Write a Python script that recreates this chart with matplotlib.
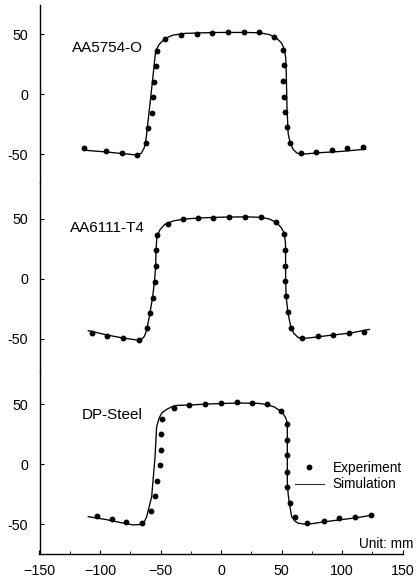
import matplotlib
matplotlib.use("Agg")
import matplotlib.pyplot as plt
from matplotlib.lines import Line2D

plt.rcParams['font.family'] = ['Liberation Sans', 'DejaVu Sans']

# ---------------- data ----------------
labels = ["AA5754-O", "AA6111-T4", "DP-Steel"]

exp1_x = [-113, -95, -82, -69.7, -62.2, -60, -57.3, -56.4, -55.4, -54, -53.2, -46, -33, -20,
          -7.2, 5.8, 18.7, 31.7, 44, 51, 52.1, 51.5, 52.1, 52.6, 54.3, 57, 66.1, 78.8, 91.7, 104.4, 117.4]
exp1_y = [-45.3, -47.2, -49.4, -50.8, -41.1, -28.3, -16.1, -2.8, 10.3, 23.3, 36.1, 45.8, 49.4, 50.3,
          50.8, 51.7, 51.4, 51.4, 47.5, 36.7, 23.9, 11.1, -2.2, -15, -27.8, -40.6, -49.4, -48.1, -46.4, -45.3, -44.2]
sim1_x = [-111, -95, -82, -70, -66, -63.5, -62, -58, -54.3, -53.5, -51, -46.5, -40, -30, -15, 0, 20, 32,
          40, 46, 50, 52.5, 53.5, 54, 54.5, 55.5, 57, 59.5, 62.5, 66, 80, 100, 119.6]
sim1_y = [-47, -48.3, -49.6, -50.8, -49.5, -45, -38, -2, 33, 37, 41.5, 46, 49, 50.5, 51, 51.3, 51.3, 51,
          49.5, 46.5, 42.5, 37, 30, 15, -10, -33, -40, -46, -49, -50.3, -49, -47.8, -46]

exp2_x = [-106.4, -94, -81, -68, -60.9, -58.7, -56.3, -54.6, -53.8, -53.8, -52.6, -44, -31.7, -18.8,
          -6.4, 6.9, 19.8, 33.3, 45.2, 52.1, 53, 52.9, 52.8, 53.6, 55.4, 58.1, 66.8, 79.8, 92.8, 105.5, 118.2]
exp2_y = [-44.7, -47.2, -49.4, -50.8, -41.1, -28.6, -15.8, -2.6, 10.5, 23.9, 36.5, 46.2, 49.7, 50.5,
          51.1, 51.9, 51.9, 51.4, 47.6, 37.3, 24.2, 10.8, -1.7, -14.3, -27.9, -40.5, -49.1, -47.7, -46.4, -45.3, -43.9]
sim2_x = [-109.7, -95, -82, -70, -66, -63.5, -61.5, -59, -56.5, -55, -54, -53.7, -53, -50.5, -46.5, -39,
          -30, -15, 0, 20, 33, 40, 46, 50, 52.3, 53.3, 53.4, 53.4, 53.8, 55.3, 57.5, 60, 63.5, 67, 80, 93, 106, 122.6]
sim2_y = [-43, -46.5, -49, -50.8, -50.5, -48, -43, -30, -15, -2, 10, 24, 35, 41, 45.5, 48.5,
          50, 51, 51.5, 51.8, 51.4, 50, 47, 42.5, 38, 30, 15, 0, -14, -28, -39, -45, -48.5, -49.8, -48.2, -46.6, -45.2, -42]

exp3_x = [-102.7, -90.3, -78.2, -65.5, -58, -54.8, -52.9, -50.7, -50, -49.7, -48.6, -39.1, -26.4, -13.6,
          -0.3, 13, 25.4, 38.3, 49.3, 54.8, 54.8, 54.3, 54.3, 54.3, 57, 61.2, 71.3, 85.1, 97.8, 110.7, 123.7]
exp3_y = [-43.3, -45.6, -48.7, -49.4, -38.9, -26.7, -13.9, -1.2, 11.7, 25, 37.3, 46.4, 49.2, 50,
          50.6, 51.4, 51.1, 49.7, 44.4, 33.3, 20, 7.5, -6.4, -19.4, -32.2, -44.4, -48.9, -47.2, -45.3, -43.9, -42.8]
sim3_x = [-109.7, -95, -82, -72.5, -66, -63.5, -61.4, -57.3, -54.5, -53.8, -53.2, -51, -49, -44.9, -39.4,
          -36.6, -25.6, -10, 0, 15, 30, 38, 44, 50.2, 53.5, 54.8, 54.8, 54.8, 55.5, 56.5, 58.4, 61, 63.9, 71.3,
          84.6, 100, 112, 123.7]
sim3_y = [-43.9, -46.3, -49, -50.8, -50.3, -48.5, -43.9, -27.2, 6.1, 20, 31.1, 38.5, 42.5, 45.5, 48.3,
          48.8, 49.2, 50, 50.4, 50.8, 50.6, 49.6, 47.5, 43.6, 38.5, 33.9, 10, -15, -25, -32.8, -43.9, -47.5, -49.4, -50.3,
          -48.3, -46.3, -44.8, -42.8]

xticks = [-150, -100, -50, 0, 50, 100, 150]
yticks = [-50, 0, 50]

panels = [(exp1_x, exp1_y, sim1_x, sim1_y),
          (exp2_x, exp2_y, sim2_x, sim2_y),
          (exp3_x, exp3_y, sim3_x, sim3_y)]

# ---------------- layout (pixels) ----------------
W, H = 416, 583
fig = plt.figure(figsize=(W / 100, H / 100), dpi=100)

x_left_px, x_right_px = 39.5, 402.5
ppu = 1.2                         # pixels per data unit (y)
zero_px = [94, 279, 464]          # pixel row of y=0 in each panel
bounds_px = [(5, 182.8), (182.8, 371.4), (371.4, 554)]
label_pos = [(72, 47.7), (70, 228.3), (81.5, 415)]

axes = []
for i, ((top, bot), z) in enumerate(zip(bounds_px, zero_px)):
    ax = fig.add_axes([x_left_px / W, 1 - bot / H, (x_right_px - x_left_px) / W, (bot - top) / H])
    ax.set_xlim(-150, 150)
    ax.set_ylim((z - bot) / ppu, (z - top) / ppu)
    ex, ey, sx, sy = panels[i]
    ax.plot(sx, sy, color='black', lw=0.95, zorder=2, label='Simulation')
    ax.plot(ex, ey, 'o', color='black', ms=4.2, mew=0, zorder=3, label='Experiment')
    for s in ['top', 'right']:
        ax.spines[s].set_visible(False)
    ax.spines['left'].set_linewidth(1.0)
    ax.set_yticks(yticks)
    ax.set_yticklabels([str(t) for t in yticks])
    ax.tick_params(axis='y', direction='in', length=3, width=0.8, pad=8.3, labelsize=10.3)
    if i < 2:
        ax.spines['bottom'].set_visible(False)
        ax.set_xticks([])
    else:
        ax.spines['bottom'].set_linewidth(1.0)
        ax.set_xticks(xticks)
        ax.set_xticks([-125, -75, -25, 25, 75, 125], minor=True)
        ax.tick_params(axis='x', which='major', direction='in', length=3, width=0.8, pad=7, labelsize=10.3)
        ax.tick_params(axis='x', which='minor', direction='in', length=2, width=0.6)
    ax.patch.set_alpha(0)
    lx, ly = label_pos[i]
    fig.text(lx / W, 1 - ly / H, labels[i], fontsize=11, ha='left', va='center')
    axes.append(ax)

handles = [Line2D([], [], marker='o', color='black', ls='none', ms=4.2, mew=0),
           Line2D([], [], color='#333333', lw=0.8)]
fig.legend(handles, ['Experiment', 'Simulation'], loc='upper left',
           bbox_to_anchor=(295 / W, 1 - 461 / H), frameon=False, fontsize=9.8,
           handlelength=2.1, handletextpad=0.66, labelspacing=0.18, borderpad=0,
           borderaxespad=0, numpoints=1)

fig.text(413 / W, 1 - 543.5 / H, 'Unit: mm', fontsize=9.8, ha='right', va='center')

fig.savefig('out.png', dpi=100)
